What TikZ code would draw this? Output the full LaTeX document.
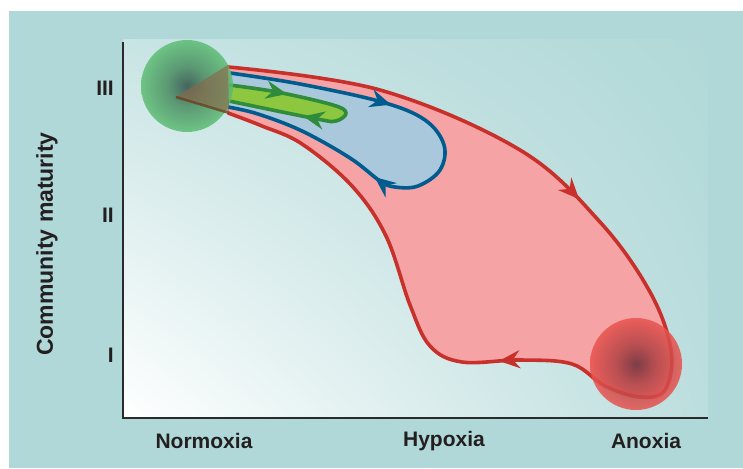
\documentclass[tikz,border=0pt]{standalone}
\usepackage{fontspec}
\setmainfont{Liberation Sans}
\usepackage{tikz}
\usetikzlibrary{arrows.meta,decorations.markings,shadings}
\definecolor{bgteal}   {HTML}{B1D8D8}
\definecolor{loopred}  {HTML}{C8312B}
\definecolor{redfill}  {HTML}{F5A3A4}
\definecolor{loopblue} {HTML}{005C8E}
\definecolor{bluefill} {HTML}{A9C8DB}
\definecolor{loopgreen}{HTML}{2E8C3B}
\definecolor{greenfill}{HTML}{8DC63F}
\definecolor{axisink}  {HTML}{2A2A2A}
\definecolor{labelink} {HTML}{231F20}
\definecolor{ballgreen}{HTML}{5DBE74}
\definecolor{balldarkg}{HTML}{2F4F48}
\definecolor{ballred}  {HTML}{E9534F}
\definecolor{balldarkr}{HTML}{6A2C36}
\definecolor{wedgeink} {HTML}{8A6748}
\definecolor{wedgeline}{HTML}{6B3F1F}
\colorlet{ballmidg}{balldarkg!45!ballgreen}
\colorlet{ballmidr}{balldarkr!45!ballred}
\colorlet{plotul}{bgteal!70!white}
\colorlet{plotlr}{bgteal!85!white}
\pgfdeclareradialshading{normball}{\pgfpoint{0bp}{0bp}}{color(0bp)=(balldarkg); color(11bp)=(ballmidg); color(25bp)=(ballgreen); color(50bp)=(ballgreen)}
\pgfdeclareradialshading{anoxball}{\pgfpoint{0bp}{0bp}}{color(0bp)=(balldarkr); color(11bp)=(ballmidr); color(25bp)=(ballred); color(50bp)=(ballred)}
\tikzset{
  >=Stealth,
  % --- labels
  axlabel/.style = {font=\fontsize{21}{25}\selectfont\bfseries, text=labelink, inner sep=0pt},
  ylabel/.style  = {axlabel, font=\fontsize{23}{27}\selectfont\bfseries, rotate=90},
  rank/.style    = {axlabel, anchor=east},
  % --- loops
  arrowsat/.style 2 args = {postaction={decorate, decoration={markings,
                    mark=at position #1 with {\arrow{Stealth[length=21pt,width=18pt,inset=7pt]}},
                    mark=at position #2 with {\arrow{Stealth[length=21pt,width=18pt,inset=7pt]}}}}},
  redloop/.style   = {draw=loopred, fill=redfill, line width=3.6pt},
  blueloop/.style  = {draw=loopblue, fill=bluefill, line width=3.6pt},
  greenloop/.style = {draw=loopgreen, fill=greenfill, line width=3.6pt},
  axis/.style      = {draw=axisink, line width=1.5pt},
}
\begin{document}
\begin{tikzpicture}[x=1pt,y=-1pt]
  \useasboundingbox (0,0) rectangle (743,468);
  \fill[bgteal] (9,11) rectangle (743,468);
  % plot area
  \shade[lower left=white, lower right=plotlr, upper left=plotul,
         upper right=bgteal] (123,40) rectangle (708,418);
  \draw[axis] (123,42) -- (123,418) -- (708,418);

  % red loop
  \path[redloop, arrowsat={0.325}{0.662}] plot[smooth, tension=0.6] coordinates {
    (228,67) (380,90) (520,150) (600,222) (650,292) (671,350) (665,390)
    (640,397) (605,386) (572,364) (520,360) (462,362) (430,346) (410,305)
    (386,236) (352,186) (302,144) (262,126) (228,113)};
  % blue loop
  \path[blueloop, arrowsat={0.33}{0.67}] plot[smooth, tension=0.6] coordinates {
    (230,73) (300,84) (382,102) (425,120) (444,145) (440,170) (418,186)
    (395,187) (380,181) (350,158) (302,131) (258,114) (228,107)};
  % green loop
  \path[greenloop, arrowsat={0.24}{0.69}] plot[smooth, tension=0.6] coordinates {
    (229,85) (277,92) (333,105) (346,113) (336,121) (317,119) (229,101)};

  % normoxia ball and wedge
  \shade[shading=normball, fill opacity=0.85] (187,86) circle (46);
  \fill[wedgeink, opacity=0.65] (176,97) -- (228,65) -- (229,112) -- cycle;
  \draw[wedgeline, line width=2.5pt, opacity=0.8] (176,97) -- (229,113);
  % anoxia ball
  \shade[shading=anoxball, fill opacity=0.85] (636,364) circle (46);

  % labels
  \node[axlabel] (normoxia) at (204,441) {Normoxia};
  \node[axlabel] (hypoxia)  at (444,441) {Hypoxia};
  \node[axlabel] (anoxia)   at (646,441) {Anoxia};
  \node[ylabel]  (maturity) at (47,244) {Community maturity};
  \node[rank] (rthree) at (114,88)  {III};
  \node[rank] (rtwo)   at (114,215) {II};
  \node[rank] (rone)   at (114,355) {I};
\end{tikzpicture}
\end{document}
